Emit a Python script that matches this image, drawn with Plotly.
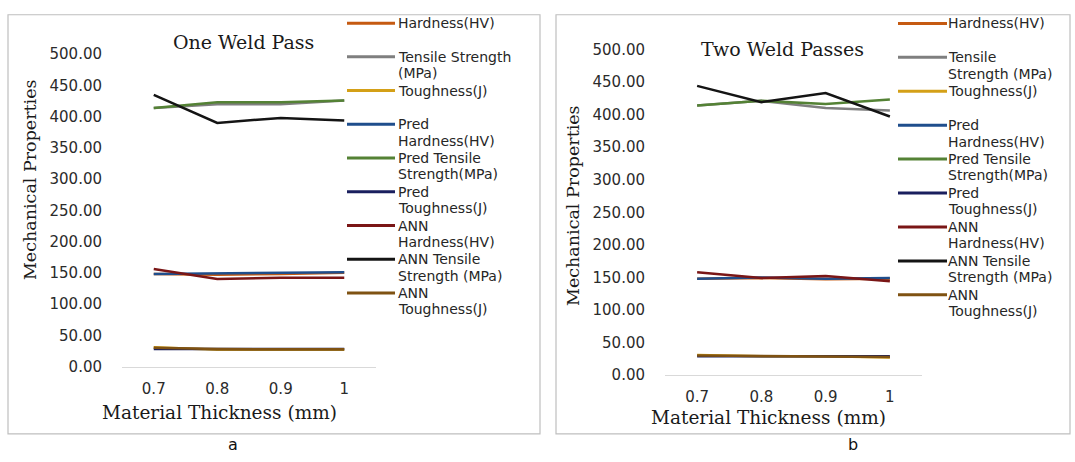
import plotly.graph_objects as go

W, H = 1075, 462

# ---- data -------------------------------------------------------------
thickness = ["0.7", "0.8", "0.9", "1"]

series_names = [
    "Hardness(HV)", "Tensile Strength (MPa)", "Toughness(J)",
    "Pred Hardness(HV)", "Pred Tensile Strength(MPa)", "Pred Toughness(J)",
    "ANN Hardness(HV)", "ANN Tensile Strength (MPa)", "ANN Toughness(J)",
]
colors = [
    "#C55A11", "#7F7F7F", "#D4A017",
    "#1F4E8C", "#548235", "#1A1F5E",
    "#7A1616", "#141414", "#7F5212",
]

# one weld pass
hardness_1 = [148, 147, 148, 150]
tensile_1 = [414, 420, 420, 426]
toughness_1 = [31, 27, 27, 27]
pred_hardness_1 = [148, 149, 150, 151]
pred_tensile_1 = [414, 423, 423, 426]
pred_toughness_1 = [28, 28, 28, 28]
ann_hardness_1 = [156, 140, 142, 142]
ann_tensile_1 = [435, 390, 398, 394]
ann_toughness_1 = [30, 28, 27.5, 27.5]

# two weld passes
hardness_2 = [148, 149, 147, 148]
tensile_2 = [414, 421, 410, 406]
toughness_2 = [31, 29, 29, 27]
pred_hardness_2 = [148, 150, 148, 149]
pred_tensile_2 = [414, 421, 416, 423]
pred_toughness_2 = [29, 29, 29, 29]
ann_hardness_2 = [158, 149, 152, 144]
ann_tensile_2 = [444, 419, 433, 397]
ann_toughness_2 = [30, 29, 29, 28]

panel_1 = [hardness_1, tensile_1, toughness_1, pred_hardness_1, pred_tensile_1,
           pred_toughness_1, ann_hardness_1, ann_tensile_1, ann_toughness_1]
panel_2 = [hardness_2, tensile_2, toughness_2, pred_hardness_2, pred_tensile_2,
           pred_toughness_2, ann_hardness_2, ann_tensile_2, ann_toughness_2]

legend_1 = [
    ["Hardness(HV)"], ["Tensile Strength", "(MPa)"], ["Toughness(J)"],
    ["Pred", "Hardness(HV)"], ["Pred Tensile", "Strength(MPa)"], ["Pred", "Toughness(J)"],
    ["ANN", "Hardness(HV)"], ["ANN Tensile", "Strength (MPa)"], ["ANN", "Toughness(J)"],
]
legend_2 = [
    ["Hardness(HV)"], ["Tensile", "Strength (MPa)"], ["Toughness(J)"],
    ["Pred", "Hardness(HV)"], ["Pred Tensile", "Strength(MPa)"], ["Pred", "Toughness(J)"],
    ["ANN", "Hardness(HV)"], ["ANN Tensile", "Strength (MPa)"], ["ANN", "Toughness(J)"],
]


def fx(px):
    return px / W


def fy(py):
    return 1 - py / H


fig = go.Figure()

for values, name, col in zip(panel_1, series_names, colors):
    fig.add_trace(go.Scatter(x=thickness, y=values, name=name, mode="lines",
                             line=dict(color=col, width=2.5), showlegend=False,
                             xaxis="x", yaxis="y"))
for values, name, col in zip(panel_2, series_names, colors):
    fig.add_trace(go.Scatter(x=thickness, y=values, name=name, mode="lines",
                             line=dict(color=col, width=2.5), showlegend=False,
                             xaxis="x2", yaxis="y2"))

tick_font = dict(family="DejaVu Sans", size=15, color="#2B2B2B")
serif = "DejaVu Serif"

common_x = dict(type="category", range=[-0.5, 3.5], showgrid=False, zeroline=False,
                showline=True, linecolor="#D9D9D9", linewidth=1, ticks="",
                tickfont=tick_font, ticklabelstandoff=8, fixedrange=True)
common_y = dict(range=[0, 500], dtick=50, tickformat=".2f", showgrid=False,
                zeroline=False, showline=False, ticks="", tickfont=tick_font,
                ticklabelstandoff=19, fixedrange=True)

fig.update_layout(
    width=W, height=H,
    margin=dict(l=0, r=0, t=0, b=0),
    paper_bgcolor="white", plot_bgcolor="white",
    xaxis=dict(domain=[fx(122), fx(376)], anchor="y", **common_x),
    yaxis=dict(domain=[fy(372), fy(47)], anchor="x", **common_y),
    xaxis2=dict(domain=[fx(665), fx(922)], anchor="y2", **common_x),
    yaxis2=dict(domain=[fy(381), fy(42)], anchor="x2", **common_y),
)

shapes = []
annotations = []

# panel frames
for x0, x1 in [(8, 540), (556, 1070)]:
    shapes.append(dict(type="rect", xref="paper", yref="paper",
                       x0=fx(x0), x1=fx(x1), y0=fy(442), y1=fy(6),
                       line=dict(color="#BFBFBF", width=1.2), fillcolor="rgba(0,0,0,0)"))

LEGEND_SIZE = 14
LEGEND_LINE_GAP = 17


def add_legend(labels, line_x0, line_x1, text_x, row0, step):
    for i, (lines, col) in enumerate(zip(labels, colors)):
        yc = row0 + step * i
        shapes.append(dict(type="line", xref="paper", yref="paper",
                           x0=fx(line_x0), x1=fx(line_x1), y0=fy(yc), y1=fy(yc),
                           line=dict(color=col, width=3)))
        for j, txt in enumerate(lines):
            annotations.append(dict(text=txt, xref="paper", yref="paper",
                                    x=fx(text_x), y=fy(yc + LEGEND_LINE_GAP * j),
                                    xanchor="left", yanchor="middle", showarrow=False,
                                    borderpad=0,
                                    font=dict(family="DejaVu Sans", size=LEGEND_SIZE,
                                              color="#262626")))


add_legend(legend_1, 347, 395, 397, 14.7, 35.1)
add_legend(legend_2, 898, 947, 947, 15.0, 35.3)


def label(text, x, y, size, family=serif, angle=0, color="#1A1A1A"):
    annotations.append(dict(text=text, xref="paper", yref="paper", x=fx(x), y=fy(y),
                            xanchor="center", yanchor="middle", showarrow=False,
                            textangle=angle, font=dict(family=family, size=size, color=color)))


label("One Weld Pass", 243, 34, 19)
label("Two Weld Passes", 782, 42, 19)
label("Mechanical Properties", 30, 178, 17.5, angle=-90)
label("Mechanical Properties", 573, 205, 17.5, angle=-90)
label("Material Thickness (mm)", 219, 420, 18.5)
label("Material Thickness (mm)", 768, 425, 18.5)
label("a", 233, 453, 16, family="DejaVu Sans", color="#111111")
label("b", 853, 453, 16, family="DejaVu Sans", color="#111111")

fig.update_layout(shapes=shapes, annotations=annotations)

fig.write_html("out.html")
